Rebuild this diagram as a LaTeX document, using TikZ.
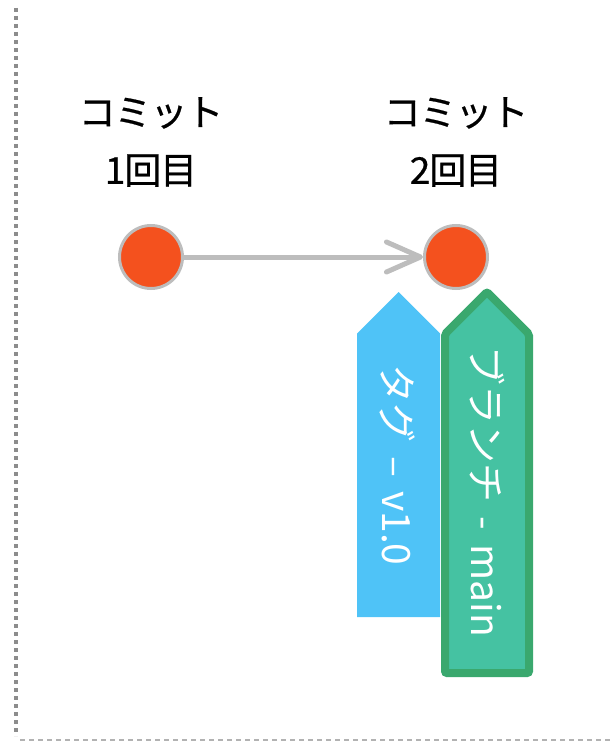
\documentclass[tikz,border=0pt]{standalone}
\usepackage{fontspec}
\setmainfont{Noto Sans CJK JP}
\newfontfamily\capfont{Noto Sans CJK JP}[FakeBold=0.6, LetterSpace=-3]
\newfontfamily\labelfont{Noto Sans CJK JP}[WordSpace=1.6]
\usetikzlibrary{arrows.meta}
\definecolor{commitred}{HTML}{F4511E}
\definecolor{linegray}{HTML}{BDBDBD}
\definecolor{tagblue}{HTML}{4FC3F7}
\definecolor{branchfill}{HTML}{45C2A2}
\definecolor{branchedge}{HTML}{3AA86E}
\tikzset{commit/.style={circle, fill=commitred, draw=linegray, line width=3pt, minimum size=63pt, inner sep=0pt},
  caption/.style={align=center, font=\capfont\fontsize{37}{58}\selectfont, inner sep=0pt},
  tagtext/.style={rotate=-90, text=white, font=\labelfont\fontsize{39}{44}\selectfont, inner sep=0pt}}

\begin{document}
\begin{tikzpicture}[x=1pt, y=-1pt]
  \useasboundingbox (0,0) rectangle (610,741);
  % frame
  \draw[gray!90, line width=4pt, dash pattern=on 4pt off 4pt] (16,8) -- (16,736);
  \draw[gray!60, line width=2pt, dash pattern=on 5pt off 4pt] (20,740) -- (610,740);
  % commits
  \node[caption] (l1) at (151,142) {コミット\\1回目};
  \node[caption] (l2) at (456,142) {コミット\\2回目};
  \node[commit] (c1) at (151,257) {};
  \node[commit] (c2) at (456,257) {};
  \draw[linegray, line width=5pt, -{Straight Barb[length=34pt, width=30pt, round]}] (c1) -- (c2);
  % tag and branch
  \fill[tagblue] (357,617) -- (357,333.5) -- (398.5,292) -- (440,333.5) -- (440,617) -- cycle;
  \filldraw[fill=branchfill, draw=branchedge, line width=8pt, rounded corners=2pt]
    (445,673) -- (445,334) -- (487,292) -- (529,334) -- (529,673) -- cycle;
  \node[tagtext] (tag) at (398,465) {タグ – v1.0};
  \node[tagtext] (branch) at (487,492) {ブランチ - main};
\end{tikzpicture}
\end{document}
